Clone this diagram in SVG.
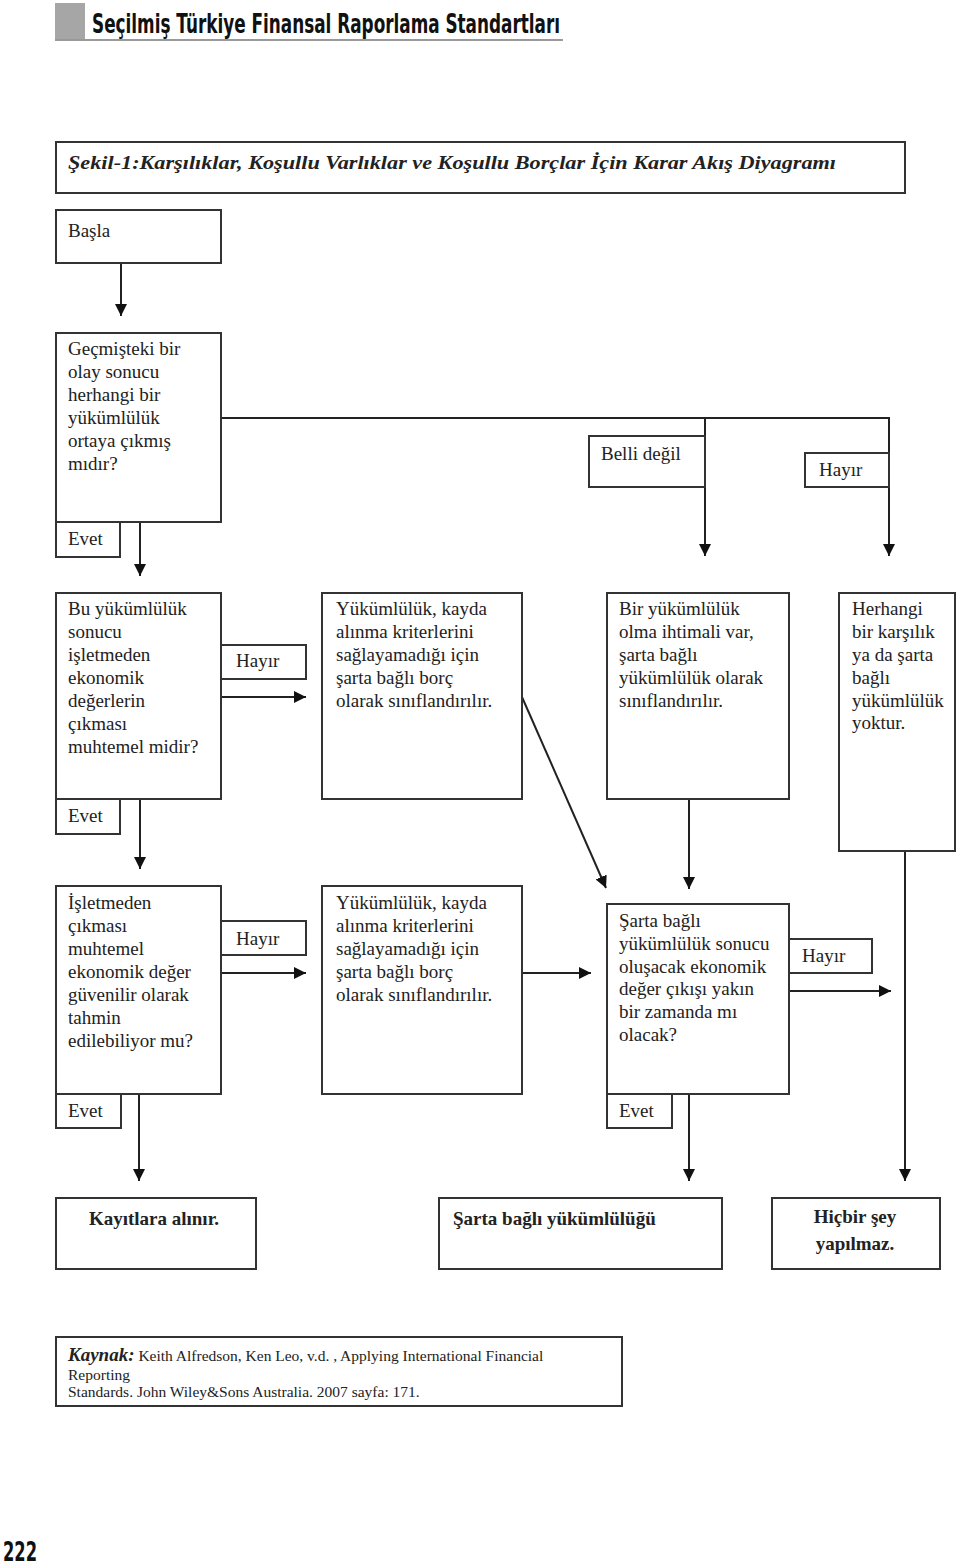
<svg xmlns="http://www.w3.org/2000/svg" width="960" height="1566" viewBox="0 0 960 1566">
<style>
.box{fill:#fff;stroke:#333;stroke-width:2}
.t{font-family:"Liberation Serif","Times New Roman",serif;font-size:19px;fill:#222}
.b{font-family:"Liberation Serif","Times New Roman",serif;font-size:19px;font-weight:bold;fill:#222}
.c{stroke:#222;stroke-width:2;fill:none}
.hd{font-family:"DejaVu Sans Condensed","Roboto","Liberation Sans",sans-serif;font-weight:bold;fill:#111}
.src{font-family:"Liberation Serif","Times New Roman",serif;font-size:15.5px;fill:#222}
</style>
<defs>
<marker id="ah" viewBox="0 0 10 10" refX="10" refY="5" markerWidth="6" markerHeight="6" markerUnits="strokeWidth" orient="auto">
<path d="M0,0 L10,5 L0,10 z" fill="#111"/>
</marker>
</defs>
<rect width="960" height="1566" fill="#fff"/>
<g id="header">
<rect x="55" y="3" width="30" height="37" fill="#a6a6a6"/>
<line x1="55" y1="40" x2="563" y2="40" stroke="#999" stroke-width="2"/>
<text class="hd" x="92" y="33" font-size="26" textLength="468" lengthAdjust="spacingAndGlyphs">Seçilmiş Türkiye Finansal Raporlama Standartları</text>
</g>
<g id="figtitle">
<rect class="box" x="56" y="142" width="849" height="51"/>
<text x="68" y="169" font-family="Liberation Serif,serif" font-size="19" font-weight="bold" font-style="italic" fill="#222" textLength="768" lengthAdjust="spacingAndGlyphs">Şekil-1:Karşılıklar, Koşullu Varlıklar ve Koşullu Borçlar İçin Karar Akış Diyagramı</text>
</g>
<g id="connectors">
<line class="c" x1="121" y1="263" x2="121" y2="316" marker-end="url(#ah)"/>
<line class="c" x1="140" y1="522" x2="140" y2="576" marker-end="url(#ah)"/>
<polyline class="c" points="221,418 889,418 889,556" marker-end="url(#ah)"/>
<line class="c" x1="705" y1="418" x2="705" y2="556" marker-end="url(#ah)"/>
<line class="c" x1="221" y1="697" x2="306" y2="697" marker-end="url(#ah)"/>
<line class="c" x1="140" y1="799" x2="140" y2="869" marker-end="url(#ah)"/>
<line class="c" x1="522" y1="697" x2="606" y2="888" marker-end="url(#ah)"/>
<line class="c" x1="689" y1="799" x2="689" y2="889" marker-end="url(#ah)"/>
<line class="c" x1="905" y1="851" x2="905" y2="1181" marker-end="url(#ah)"/>
<line class="c" x1="221" y1="973" x2="306" y2="973" marker-end="url(#ah)"/>
<line class="c" x1="522" y1="973" x2="591" y2="973" marker-end="url(#ah)"/>
<line class="c" x1="789" y1="991" x2="891" y2="991" marker-end="url(#ah)"/>
<line class="c" x1="139" y1="1094" x2="139" y2="1181" marker-end="url(#ah)"/>
<line class="c" x1="689" y1="1094" x2="689" y2="1181" marker-end="url(#ah)"/>
</g>
<g id="basla">
<rect class="box" x="56" y="210" width="165" height="53"/>
<text class="t" x="68" y="237" font-size="21">Başla</text>
</g>
<g id="q1">
<rect class="box" x="56" y="333" width="165" height="189"/>
<text class="t"><tspan x="68" y="355">Geçmişteki bir</tspan><tspan x="68" y="378">olay sonucu</tspan><tspan x="68" y="401">herhangi bir</tspan><tspan x="68" y="424">yükümlülük</tspan><tspan x="68" y="447">ortaya çıkmış</tspan><tspan x="68" y="470">mıdır?</tspan></text>
</g>
<g id="q1-evet">
<rect class="box" x="56" y="522" width="64" height="35"/>
<text class="t" x="68" y="545">Evet</text>
</g>
<g id="q1-belli">
<rect class="box" x="589" y="436" width="116" height="51"/>
<text class="t" x="601" y="460">Belli değil</text>
</g>
<g id="q1-hayir">
<rect class="box" x="805" y="453" width="84" height="34"/>
<text class="t" x="819" y="476">Hayır</text>
</g>
<g id="q2">
<rect class="box" x="56" y="593" width="165" height="206"/>
<text class="t"><tspan x="68" y="615">Bu yükümlülük</tspan><tspan x="68" y="638">sonucu</tspan><tspan x="68" y="661">işletmeden</tspan><tspan x="68" y="684">ekonomik</tspan><tspan x="68" y="707">değerlerin</tspan><tspan x="68" y="730">çıkması</tspan><tspan x="68" y="753">muhtemel midir?</tspan></text>
</g>
<g id="q2-hayir">
<rect class="box" x="221" y="645" width="85" height="34"/>
<text class="t" x="236" y="667">Hayır</text>
</g>
<g id="q2-evet">
<rect class="box" x="56" y="799" width="64" height="35"/>
<text class="t" x="68" y="822">Evet</text>
</g>
<g id="borc1">
<rect class="box" x="322" y="593" width="200" height="206"/>
<text class="t"><tspan x="336" y="615">Yükümlülük, kayda</tspan><tspan x="336" y="638">alınma kriterlerini</tspan><tspan x="336" y="661">sağlayamadığı için</tspan><tspan x="336" y="684">şarta bağlı borç</tspan><tspan x="336" y="707">olarak sınıflandırılır.</tspan></text>
</g>
<g id="ihtimal">
<rect class="box" x="607" y="593" width="182" height="206"/>
<text class="t"><tspan x="619" y="615">Bir yükümlülük</tspan><tspan x="619" y="638">olma ihtimali var,</tspan><tspan x="619" y="661">şarta bağlı</tspan><tspan x="619" y="684">yükümlülük olarak</tspan><tspan x="619" y="707">sınıflandırılır.</tspan></text>
</g>
<g id="yoktur">
<rect class="box" x="839" y="593" width="116" height="258"/>
<text class="t"><tspan x="852" y="615">Herhangi</tspan><tspan x="852" y="638">bir karşılık</tspan><tspan x="852" y="661">ya da şarta</tspan><tspan x="852" y="684">bağlı</tspan><tspan x="852" y="707">yükümlülük</tspan><tspan x="852" y="729">yoktur.</tspan></text>
</g>
<g id="q3">
<rect class="box" x="56" y="886" width="165" height="208"/>
<text class="t"><tspan x="68" y="909">İşletmeden</tspan><tspan x="68" y="932">çıkması</tspan><tspan x="68" y="955">muhtemel</tspan><tspan x="68" y="978">ekonomik değer</tspan><tspan x="68" y="1001">güvenilir olarak</tspan><tspan x="68" y="1024">tahmin</tspan><tspan x="68" y="1047">edilebiliyor mu?</tspan></text>
</g>
<g id="q3-hayir">
<rect class="box" x="221" y="921" width="85" height="34"/>
<text class="t" x="236" y="945">Hayır</text>
</g>
<g id="q3-evet">
<rect class="box" x="56" y="1094" width="65" height="34"/>
<text class="t" x="68" y="1117">Evet</text>
</g>
<g id="borc2">
<rect class="box" x="322" y="886" width="200" height="208"/>
<text class="t"><tspan x="336" y="909">Yükümlülük, kayda</tspan><tspan x="336" y="932">alınma kriterlerini</tspan><tspan x="336" y="955">sağlayamadığı için</tspan><tspan x="336" y="978">şarta bağlı borç</tspan><tspan x="336" y="1001">olarak sınıflandırılır.</tspan></text>
</g>
<g id="q4">
<rect class="box" x="607" y="904" width="182" height="190"/>
<text class="t"><tspan x="619" y="927">Şarta bağlı</tspan><tspan x="619" y="950">yükümlülük sonucu</tspan><tspan x="619" y="973">oluşacak ekonomik</tspan><tspan x="619" y="995">değer çıkışı yakın</tspan><tspan x="619" y="1018">bir zamanda mı</tspan><tspan x="619" y="1041">olacak?</tspan></text>
</g>
<g id="q4-hayir">
<rect class="box" x="789" y="939" width="83" height="34"/>
<text class="t" x="802" y="962">Hayır</text>
</g>
<g id="q4-evet">
<rect class="box" x="607" y="1094" width="65" height="34"/>
<text class="t" x="619" y="1117">Evet</text>
</g>
<g id="kayit">
<rect class="box" x="56" y="1198" width="200" height="71"/>
<text class="b" x="154" y="1225" text-anchor="middle">Kayıtlara alınır.</text>
</g>
<g id="sarta">
<rect class="box" x="439" y="1198" width="283" height="71"/>
<text class="b" x="453" y="1225">Şarta bağlı yükümlülüğü</text>
</g>
<g id="hicbir">
<rect class="box" x="772" y="1198" width="168" height="71"/>
<text class="b" text-anchor="middle"><tspan x="855" y="1223">Hiçbir şey</tspan><tspan x="855" y="1250">yapılmaz.</tspan></text>
</g>
<g id="kaynak">
<rect class="box" x="56" y="1337" width="566" height="69"/>
<text x="68" y="1361" class="src"><tspan font-size="19" font-weight="bold" font-style="italic">Kaynak:</tspan><tspan> Keith Alfredson, Ken Leo, v.d. , Applying International Financial</tspan></text>
<text x="68" y="1380" class="src">Reporting</text>
<text x="68" y="1397" class="src">Standards. John Wiley&amp;Sons Australia. 2007 sayfa: 171.</text>
</g>
<g id="pagenum">
<text class="hd" x="3" y="1561" font-size="26" font-weight="normal" textLength="34" lengthAdjust="spacingAndGlyphs">222</text>
</g>
</svg>
